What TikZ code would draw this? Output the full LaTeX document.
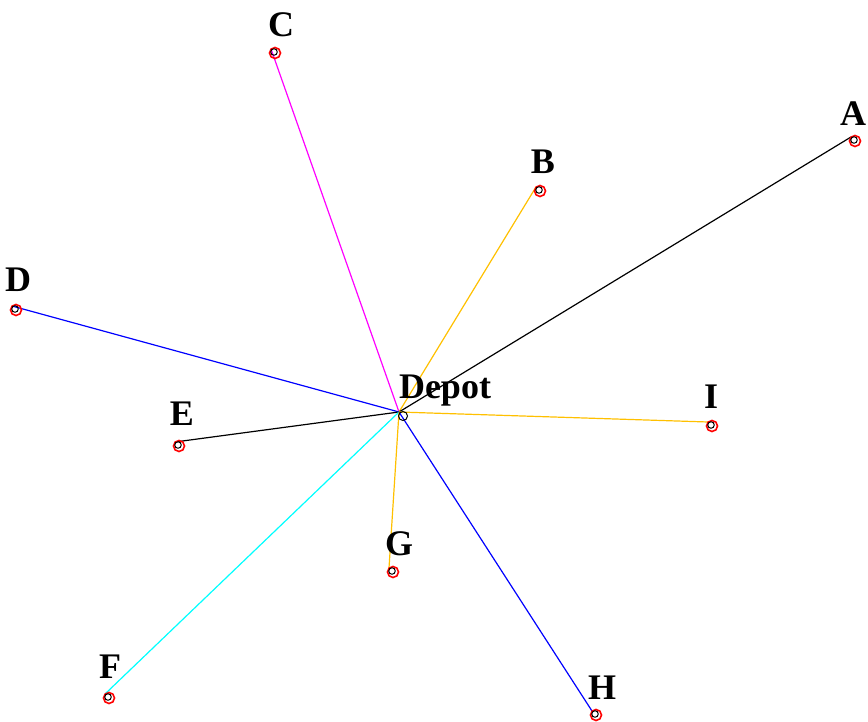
\documentclass[tikz,border=0pt]{standalone}
\usepackage{fontspec}
\setmainfont{Liberation Serif}
\definecolor{routeorange}{RGB}{255,192,0}
\definecolor{routecyan}{RGB}{0,255,255}
\definecolor{routemag}{RGB}{255,0,255}
\definecolor{routeblue}{RGB}{0,0,255}
\begin{document}
\begin{tikzpicture}[x=1pt,y=-1pt,
  lbl/.style={font=\fontsize{36}{36}\selectfont\bfseries, inner sep=0pt},
  route/.style={line width=1.2pt},
  marker/.style={draw=red, line width=1.6pt, circle, minimum size=11pt, inner sep=0pt},
  inmark/.style={draw=black, line width=1pt, circle, minimum size=6.5pt, inner sep=0pt}]
\useasboundingbox (0,0) rectangle (868,722);
% points (marker centres)
\coordinate (pDepot) at (403,416);
\coordinate (pA) at (855,141);
\coordinate (pB) at (540,191);
\coordinate (pC) at (275,53);
\coordinate (pD) at (16,310);
\coordinate (pE) at (179,446);
\coordinate (pF) at (109,698);
\coordinate (pG) at (393,572);
\coordinate (pH) at (596,715);
\coordinate (pI) at (712,426);
% line ends
\foreach \n in {Depot,A,B,C,D,E,F,G,H,I}{
  \coordinate (e\n) at ([shift={(-4,-4)}]p\n);
}
% routes
\draw[route, routemag] (eDepot) -- (eC);
\draw[route, routeorange] (eDepot) -- (eB);
\draw[route, black] (eDepot) -- (eA);
\draw[route, routeblue] (eDepot) -- (eD);
\draw[route, black] (eDepot) -- (eE);
\draw[route, routecyan] (eDepot) -- (eF);
\draw[route, routeorange] (eDepot) -- (eG);
\draw[route, routeblue] (eDepot) -- (eH);
\draw[route, routeorange] (eDepot) -- (eI);
% markers
\foreach \n in {A,B,C,D,E,F,G,H,I}{
  \node[marker] (m\n) at (p\n) {};
  \node[inmark] (k\n) at ([shift={(-1,-1)}]p\n) {};
}
\node[inmark, minimum size=9pt] (mDepot) at (pDepot) {};
% labels
\node[lbl] (lDepot) at (445,391) {Depot};
\node[lbl] (lA) at (853,114) {A};
\node[lbl] (lB) at (543,162) {B};
\node[lbl] (lC) at (281,25) {C};
\node[lbl] (lD) at (18,280) {D};
\node[lbl] (lE) at (182,414) {E};
\node[lbl] (lF) at (110,667) {F};
\node[lbl] (lG) at (399,544) {G};
\node[lbl] (lH) at (602,688) {H};
\node[lbl] (lI) at (711,397) {I};
\end{tikzpicture}
\end{document}
